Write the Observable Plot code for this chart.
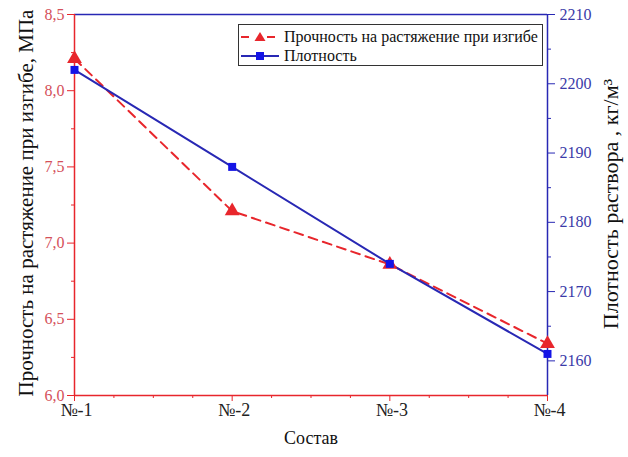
<!DOCTYPE html>
<html><head><meta charset="utf-8">
<script src="https://cdn.jsdelivr.net/npm/d3@7"></script>
<script src="https://cdn.jsdelivr.net/npm/@observablehq/plot@0.6"></script>
<style>
body{margin:0;background:#fff;}
#wrap{position:relative;width:628px;height:457px;font-family:"Liberation Serif","Times New Roman",serif;}
#wrap svg, #wrap svg text{font-family:"Liberation Serif","Times New Roman",serif !important;}
#legend{position:absolute;left:238px;top:24px;width:305px;height:42px;border:1px solid #333;background:#fff;box-sizing:border-box;font-family:"Liberation Serif","Times New Roman",serif;font-size:16px;color:#111;}
#legend .row{position:absolute;left:1px;height:19px;display:flex;align-items:center;white-space:nowrap;}
#legend svg{margin-right:4px;}
</style></head><body><div id="wrap"></div>
<script>
const categories = ["№-1","№-2","№-3","№-4"];
const strength = [8.21, 7.21, 6.86, 6.34];
const density = [2202, 2188, 2174, 2161];
const strengthTicks = [6.0, 6.5, 7.0, 7.5, 8.0, 8.5];
const strengthMinor = [6.25, 6.75, 7.25, 7.75, 8.25];
const densityTicks = [2160, 2170, 2180, 2190, 2200, 2210];
const densityMinor = [2165, 2175, 2185, 2195, 2205];
const seriesNames = ["Прочность на растяжение при изгибе", "Плотность"];
const yLabelLeft = "Прочность на растяжение при изгибе, МПа";
const yLabelRight = "Плотность раствора , кг/м³";
const xLabel = "Состав";

const RED = "#e8262c", RED_T = "#d4505a", BLUE = "#2828b4", BLUE_M = "#1414e6", BLUE_T = "#3a3aa8";
const sDom = [6.0, 8.5], dDom = [2155, 2210];
const toLeft = d => sDom[0] + (d - dDom[0]) / (dDom[1] - dDom[0]) * (sDom[1] - sDom[0]);
const fromLeft = v => dDom[0] + (v - sDom[0]) / (sDom[1] - sDom[0]) * (dDom[1] - dDom[0]);

const rows = categories.map((c, i) => ({i: i + 1, cat: c, s: strength[i], d: density[i]}));
const xMajor = categories.map((c, i) => i + 1);
const xMinor = [];
for (let k = 1; k < 4; k++) for (let q = 1; q < 4; q++) xMinor.push(k + q / 4);

const chart = Plot.plot({
  width: 628, height: 457,
  marginLeft: 74, marginRight: 81, marginTop: 14, marginBottom: 62,
  style: {fontFamily: '"Liberation Serif","Times New Roman",serif', background: "#fff"},
  x: {domain: [1, 4], axis: null},
  y: {domain: sDom, axis: null},
  marks: [
    // minor ticks
    Plot.axisX(xMinor, {anchor: "bottom", tickSize: 3, tickFormat: () => "", stroke: RED, label: null}),
    Plot.axisY(strengthMinor, {anchor: "left", tickSize: 3, tickFormat: () => "", stroke: RED, label: null}),
    Plot.axisY(densityMinor.map(toLeft), {anchor: "right", tickSize: 3, tickFormat: () => "", stroke: BLUE, label: null}),
    // major ticks
    Plot.axisX(xMajor, {anchor: "bottom", tickSize: 6, tickFormat: () => "", stroke: RED, label: null}),
    Plot.axisX(xMajor, {anchor: "bottom", tickSize: 0, tickPadding: 8, dx: 2, tickFormat: d => categories[Math.round(d) - 1], fill: "#222", fontSize: 18, label: null}),
    Plot.axisY(strengthTicks, {anchor: "left", tickSize: 7, tickPadding: 3, tickFormat: d => d.toFixed(1).replace(".", ","), stroke: RED, fill: RED_T, fontSize: 16, label: null}),
    Plot.axisY(densityTicks.map(toLeft), {anchor: "right", tickSize: 7, tickPadding: 5, tickFormat: v => String(Math.round(fromLeft(v))), stroke: BLUE, fill: BLUE_T, fontSize: 16, label: null}),
    // frame
    Plot.ruleY([sDom[1]], {stroke: BLUE, strokeWidth: 1.5}),
    Plot.ruleX([4], {stroke: BLUE, strokeWidth: 1.5}),
    Plot.ruleX([1], {stroke: RED, strokeWidth: 1.5}),
    Plot.ruleY([sDom[0]], {stroke: RED, strokeWidth: 1.5}),
    // series
    Plot.line(rows, {x: "i", y: "s", stroke: RED, strokeWidth: 2, strokeDasharray: "9,6"}),
    Plot.line(rows, {x: "i", y: d => toLeft(d.d), stroke: BLUE, strokeWidth: 2}),
    Plot.dot(rows, {x: "i", y: "s", symbol: "triangle", fill: RED, r: 5.5}),
    Plot.dot(rows, {x: "i", y: d => toLeft(d.d), symbol: "square", fill: BLUE_M, r: 4.5}),
    // titles
    Plot.text([yLabelLeft], {frameAnchor: "left", textAnchor: "middle", dx: -48, dy: -2, rotate: -90, fontSize: 21, fill: "#111", text: d => d}),
    Plot.text([yLabelRight], {frameAnchor: "right", textAnchor: "middle", dx: 63, dy: -1, rotate: -90, fontSize: 22, fill: "#111", text: d => d}),
    Plot.text([xLabel], {frameAnchor: "bottom", dy: 48, fontSize: 18, fill: "#111", text: d => d})
  ]
});
const wrap = document.getElementById("wrap");
wrap.appendChild(chart);

const leg = document.createElement("div");
leg.id = "legend";
const icons = [
  `<svg width="40" height="12"><line x1="1" y1="6" x2="39" y2="6" stroke="${RED}" stroke-width="2" stroke-dasharray="8,5"/><rect x="13" y="0" width="14" height="12" fill="#fff"/><path d="M20,1 L25.5,10 L14.5,10 Z" fill="${RED}"/></svg>`,
  `<svg width="40" height="12"><line x1="1" y1="6" x2="39" y2="6" stroke="${BLUE}" stroke-width="2"/><rect x="16" y="2" width="8" height="8" fill="${BLUE_M}"/></svg>`
];
seriesNames.forEach((n, k) => {
  const r = document.createElement("div");
  r.className = "row";
  r.style.top = (2 + k * 19) + "px";
  r.innerHTML = icons[k] + `<span>${n}</span>`;
  leg.appendChild(r);
});
wrap.appendChild(leg);
</script></body></html>
